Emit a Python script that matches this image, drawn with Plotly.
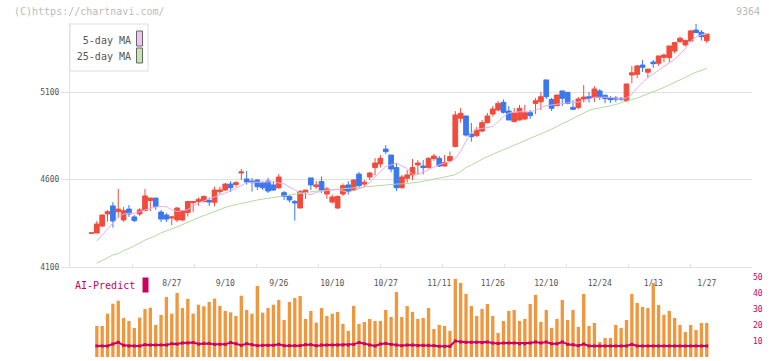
import plotly.graph_objects as go

W, H = 772, 361


def px(x):
    return x / W


def py(y):
    return 1 - y / H


# ---------------- data ----------------
idx = list(range(116))

opens = [4293, 4294, 4334, 4403, 4449, 4416, 4369, 4431, 4386, 4403,
         4422, 4480, 4494, 4414, 4397, 4380, 4369, 4369, 4411, 4468,
         4474, 4474, 4480, 4470, 4531, 4540, 4574, 4571, 4637, 4603,
         4591, 4597, 4580, 4591, 4569, 4553, 4525, 4503, 4474, 4437,
         4525, 4609, 4559, 4588, 4517, 4471, 4437, 4517, 4569, 4540,
         4631, 4574, 4614, 4668, 4689, 4774, 4740, 4668, 4553, 4607,
         4626, 4683, 4677, 4668, 4719, 4721, 4677, 4706, 4788, 4950,
         4963, 4860, 4851, 4877, 4925, 4974, 4997, 5041, 4991, 4931,
         4940, 4946, 4982, 5035, 5044, 5169, 5058, 5022, 5106, 5098,
         5012, 5012, 5060, 5073, 5070, 5106, 5081, 5064, 5066, 5064,
         5049, 5197, 5201, 5254, 5213, 5271, 5264, 5298, 5296, 5334,
         5388, 5369, 5391, 5454, 5441, 5393]

highs = [4296, 4363, 4400, 4426, 4471, 4546, 4443, 4454, 4397, 4437,
         4546, 4494, 4494, 4426, 4409, 4391, 4443, 4426, 4474, 4474,
         4497, 4509, 4497, 4559, 4559, 4580, 4591, 4591, 4660, 4649,
         4609, 4603, 4591, 4609, 4591, 4631, 4534, 4514, 4483, 4540,
         4540, 4609, 4591, 4617, 4557, 4514, 4509, 4577, 4591, 4603,
         4643, 4597, 4643, 4723, 4740, 4797, 4740, 4694, 4626, 4654,
         4717, 4711, 4711, 4726, 4746, 4734, 4740, 4760, 4991, 5009,
         4963, 4923, 4900, 4940, 4980, 5020, 5049, 5058, 5020, 5009,
         5026, 5026, 4997, 5066, 5100, 5169, 5066, 5083, 5106, 5100,
         5054, 5071, 5140, 5100, 5134, 5117, 5087, 5077, 5077, 5071,
         5146, 5249, 5254, 5283, 5231, 5283, 5306, 5320, 5363, 5383,
         5417, 5400, 5454, 5489, 5454, 5431]

lows = [4292, 4294, 4328, 4359, 4325, 4380, 4357, 4386, 4357, 4391,
        4420, 4420, 4426, 4357, 4357, 4340, 4357, 4363, 4388, 4414,
        4451, 4469, 4449, 4446, 4517, 4534, 4529, 4557, 4597, 4571,
        4531, 4540, 4540, 4523, 4534, 4546, 4483, 4469, 4365, 4437,
        4489, 4540, 4546, 4523, 4489, 4463, 4431, 4506, 4514, 4534,
        4551, 4557, 4597, 4623, 4668, 4746, 4641, 4534, 4549, 4583,
        4597, 4629, 4629, 4663, 4706, 4671, 4677, 4706, 4784, 4925,
        4845, 4816, 4843, 4871, 4920, 4960, 4989, 4977, 4940, 4926,
        4937, 4940, 4946, 4974, 4997, 5060, 4991, 5022, 5020, 5030,
        4997, 5001, 5040, 5040, 5043, 5054, 5037, 5037, 5043, 5049,
        5043, 5150, 5180, 5214, 5180, 5237, 5249, 5270, 5270, 5320,
        5380, 5360, 5386, 5437, 5394, 5380]

closes = [4295, 4346, 4397, 4416, 4363, 4431, 4422, 4403, 4365, 4426,
          4506, 4494, 4446, 4374, 4374, 4386, 4437, 4422, 4474, 4474,
          4486, 4503, 4471, 4540, 4540, 4574, 4553, 4582, 4643, 4586,
          4582, 4559, 4553, 4534, 4540, 4614, 4503, 4483, 4466, 4531,
          4540, 4569, 4569, 4540, 4546, 4500, 4503, 4565, 4531, 4597,
          4565, 4585, 4637, 4694, 4721, 4759, 4660, 4553, 4614, 4626,
          4668, 4694, 4668, 4721, 4734, 4677, 4697, 4731, 4969, 4978,
          4854, 4845, 4883, 4925, 4963, 5003, 5035, 4984, 4940, 4982,
          5007, 4982, 4965, 5050, 5073, 5073, 5007, 5083, 5064, 5035,
          5001, 5060, 5071, 5064, 5117, 5070, 5062, 5056, 5060, 5060,
          5146, 5210, 5249, 5241, 5231, 5262, 5306, 5311, 5363, 5383,
          5407, 5394, 5449, 5439, 5416, 5431]

ma5 = [None, 4249, 4281, 4317, 4351, 4386, 4403, 4407, 4407, 4417,
       4427, 4436, 4443, 4445, 4445, 4426, 4417, 4422, 4427, 4449,
       4466, 4478, 4489, 4499, 4511, 4523, 4534, 4549, 4565, 4582,
       4584, 4586, 4587, 4586, 4586, 4582, 4575, 4557, 4539, 4524,
       4517, 4513, 4527, 4534, 4537, 4541, 4543, 4534, 4527, 4537,
       4547, 4557, 4583, 4611, 4643, 4674, 4683, 4693, 4678, 4663,
       4629, 4629, 4641, 4656, 4671, 4685, 4694, 4699, 4719, 4761,
       4819, 4867, 4886, 4891, 4897, 4903, 4930, 4960, 4980, 4985,
       4987, 4987, 4987, 4995, 5012, 5022, 5027, 5031, 5035, 5038,
       5040, 5043, 5045, 5059, 5070, 5070, 5070, 5070, 5065, 5060,
       5066, 5087, 5123, 5155, 5182, 5203, 5223, 5244, 5266, 5287,
       5316, 5347, 5391, 5414, 5427, 5431]

ma25 = [None, 4121, 4137, 4154, 4169, 4176, 4194, 4206, 4219, 4236,
        4254, 4265, 4278, 4295, 4308, 4318, 4329, 4341, 4355, 4369,
        4382, 4394, 4406, 4419, 4429, 4440, 4450, 4457, 4465, 4473,
        4478, 4483, 4488, 4493, 4497, 4502, 4506, 4511, 4516, 4521,
        4527, 4531, 4534, 4536, 4539, 4541, 4543, 4546, 4549, 4553,
        4556, 4559, 4562, 4565, 4567, 4569, 4571, 4574, 4575, 4577,
        4579, 4584, 4590, 4595, 4602, 4608, 4614, 4621, 4628, 4646,
        4668, 4683, 4700, 4717, 4731, 4744, 4757, 4769, 4781, 4794,
        4808, 4819, 4832, 4845, 4858, 4873, 4887, 4903, 4918, 4931,
        4949, 4964, 4979, 4995, 5004, 5009, 5015, 5020, 5029, 5037,
        5045, 5057, 5066, 5077, 5089, 5101, 5113, 5126, 5139, 5154,
        5169, 5184, 5199, 5213, 5223, 5235]

vol_x = list(range(1, 116))
volume = [19.4, 19.4, 27.1, 33.3, 35.2, 24.4, 22.5, 18.1, 24.6, 30.0,
          30.8, 20.0, 26.3, 37.5, 27.1, 40.0, 30.6, 36.3, 27.1, 32.7,
          31.7, 34.4, 36.5, 31.9, 28.8, 27.9, 25.6, 38.3, 29.4, 27.1,
          44.4, 27.7, 30.6, 32.7, 35.6, 23.1, 34.4, 36.9, 38.1, 23.8,
          28.8, 21.5, 30.6, 25.6, 27.1, 28.1, 20.6, 16.3, 31.9, 20.6,
          21.9, 23.8, 22.5, 22.5, 29.4, 25.0, 40.6, 25.0, 31.9, 28.1,
          23.8, 24.4, 30.6, 17.5, 20.0, 19.4, 16.3, 48.8, 46.3, 39.4,
          31.9, 25.6, 30.0, 33.1, 25.6, 15.0, 22.5, 28.8, 29.4, 22.5,
          23.8, 33.1, 38.8, 21.9, 29.4, 18.1, 23.8, 35.6, 23.1, 29.4,
          18.8, 39.4, 19.4, 21.3, 9.4, 11.9, 11.9, 20.0, 18.1, 23.1,
          39.4, 33.8, 31.3, 30.6, 46.3, 32.5, 26.3, 28.8, 24.4, 20.0,
          15.6, 20.0, 16.9, 21.3, 21.3]

ai_predict = [6.9, 6.9, 6.9, 8.1, 9.2, 7.3, 6.9, 6.9, 6.9, 7.7,
              7.5, 7.5, 7.5, 7.5, 8.3, 8.1, 8.75, 8.75, 9.0, 8.1,
              8.5, 8.5, 7.9, 7.9, 7.9, 9.0, 8.3, 7.3, 8.3, 7.7,
              7.1, 7.3, 7.3, 7.3, 7.9, 7.1, 7.1, 7.1, 7.1, 7.7,
              7.7, 7.1, 7.5, 7.5, 7.5, 7.5, 7.5, 7.5, 7.9, 9.0,
              8.3, 7.5, 6.9, 8.1, 8.5, 7.9, 7.5, 7.1, 7.5, 7.5,
              7.1, 7.3, 7.3, 7.1, 6.7, 6.7, 6.7, 10.0, 9.4, 9.2,
              9.2, 9.2, 9.0, 9.4, 8.75, 8.5, 8.75, 8.75, 8.75, 8.3,
              8.3, 8.75, 9.4, 8.75, 9.4, 8.3, 8.3, 9.4, 7.9, 7.7,
              7.1, 8.1, 6.9, 6.9, 6.9, 6.9, 6.9, 6.9, 6.9, 6.9,
              7.9, 6.9, 6.9, 6.9, 6.9, 6.9, 6.9, 6.9, 6.9, 6.9,
              6.9, 6.9, 6.9, 6.9, 6.9]

date_idx = [15, 25, 35, 45, 55, 65, 75, 85, 95, 105, 115]
date_labels = ["8/27", "9/10", "9/26", "10/10", "10/27", "11/11",
               "11/26", "12/10", "12/24", "1/13", "1/27"]
price_ticks = [4100, 4600, 5100]
vol_ticks = [0, 10, 20, 30, 40, 50]

# ---------------- style ----------------
FONT = "DejaVu Sans Mono"
RED = "#f04c3c"
BLUE = "#3a78ee"
ORANGE = "#f0963c"
CRIMSON = "#cc0060"
PINK = "#e6aee6"
GREEN = "#b2daa0"
GRID = "#e2e2e2"
TXT = "#555555"

XR = [(70 - 91.5) / 5.35, (752 - 91.5) / 5.35]
XDOM = [px(70), px(752)]
TOP_PX = 23  # top pixel of the price panel

fig = go.Figure()

fig.add_trace(go.Scatter(x=idx, y=ma25, mode="lines",
                         line=dict(color=GREEN, width=1),
                         xaxis="x", yaxis="y", hoverinfo="skip"))
fig.add_trace(go.Scatter(x=idx, y=ma5, mode="lines",
                         line=dict(color=PINK, width=1),
                         xaxis="x", yaxis="y", hoverinfo="skip"))
fig.add_trace(go.Candlestick(
    x=idx, open=opens, high=highs, low=lows, close=closes,
    increasing=dict(fillcolor=RED, line=dict(color=RED, width=1)),
    decreasing=dict(fillcolor=BLUE, line=dict(color=BLUE, width=1)),
    whiskerwidth=0, xaxis="x", yaxis="y"))

# invisible trace so the divider-tick axis is drawn
fig.add_trace(go.Scatter(x=[0, 11], y=[4100, 4100], mode="markers",
                         marker=dict(opacity=0), xaxis="x3", yaxis="y",
                         hoverinfo="skip"))

fig.add_trace(go.Bar(x=vol_x, y=volume, width=0.62,
                     marker=dict(color=ORANGE, line=dict(width=0)),
                     xaxis="x2", yaxis="y2"))
fig.add_trace(go.Scatter(x=vol_x, y=ai_predict, mode="lines+markers",
                         line=dict(color=CRIMSON, width=2),
                         marker=dict(symbol="square", size=3, color=CRIMSON),
                         xaxis="x2", yaxis="y2"))


# page-level texts on a full-page overlay axis (pixel coordinates)
def text_trace(x, y, s, pos, color, size=10):
    return go.Scatter(x=[x], y=[y], mode="text", text=[s], textposition=pos,
                      textfont=dict(family=FONT, size=size, color=color),
                      xaxis="x4", yaxis="y4", hoverinfo="skip", cliponaxis=False)


fig.add_trace(text_trace(14, 12, "(C)https://chartnavi.com/", "middle right", "#bbbbbb"))
fig.add_trace(text_trace(760, 12, "9364", "middle left", "#bbbbbb"))
fig.add_trace(text_trace(131, 41, "5-day MA", "middle left", TXT))
fig.add_trace(text_trace(131, 57, "25-day MA", "middle left", TXT))
fig.add_trace(text_trace(75, 286, "AI-Predict", "middle right", CRIMSON))

fig.update_layout(
    width=W, height=H,
    margin=dict(l=0, r=0, t=0, b=0, pad=0, autoexpand=False),
    paper_bgcolor="white", plot_bgcolor="rgba(0,0,0,0)",
    showlegend=False,
    boxgap=0.12, boxgroupgap=0,
    font=dict(family=FONT, size=8, color=TXT),
    xaxis=dict(domain=XDOM, range=XR, anchor="y",
               showgrid=False, zeroline=False, automargin=False,
               showline=True, linecolor=GRID, linewidth=1,
               tickvals=date_idx, ticktext=date_labels,
               ticks="", ticklabelstandoff=8,
               tickfont=dict(family=FONT, size=8, color=TXT),
               rangeslider=dict(visible=False), fixedrange=True),
    xaxis3=dict(domain=XDOM, range=[0, 11], anchor="y", overlaying="x",
                showgrid=False, zeroline=False, showline=False, automargin=False,
                tickvals=list(range(12)), ticks="inside", ticklen=3,
                tickcolor=GRID, showticklabels=False),
    yaxis=dict(domain=[py(267), py(TOP_PX)],
               range=[4100, 4100 + (267 - TOP_PX) * 500 / 87.5],
               anchor="x", tickvals=price_ticks, automargin=False,
               showgrid=True, gridcolor=GRID, gridwidth=1,
               zeroline=False, showline=True, linecolor=GRID,
               ticks="outside", ticklen=8, tickcolor=GRID,
               tickfont=dict(family=FONT, size=8, color=TXT)),
    xaxis2=dict(domain=XDOM, range=XR, anchor="y2", visible=False,
                automargin=False),
    yaxis2=dict(domain=[py(357), py(277)], range=[0, 50], anchor="x2",
                side="right", tickvals=vol_ticks, automargin=False,
                ticktext=["\u00a0" + str(v) if v < 10 else str(v) for v in vol_ticks],
                showgrid=False, zeroline=False, showline=False, ticks="",
                tickfont=dict(family=FONT, size=8, color=CRIMSON)),
    xaxis4=dict(domain=[0, 1], range=[0, W], anchor="y4", visible=False,
                automargin=False, fixedrange=True),
    yaxis4=dict(domain=[0, 1], range=[H, 0], anchor="x4", visible=False,
                automargin=False, fixedrange=True),
)

shapes = [
    # legend box
    dict(type="rect", xref="paper", yref="paper",
         x0=px(70), x1=px(148), y0=py(71), y1=py(24),
         line=dict(color="#dddddd", width=1), fillcolor="white", layer="below"),
    dict(type="rect", xref="paper", yref="paper",
         x0=px(136.5), x1=px(142.5), y0=py(46), y1=py(31),
         line=dict(color="#666666", width=1), fillcolor="#f0c4f0", layer="above"),
    dict(type="rect", xref="paper", yref="paper",
         x0=px(136.5), x1=px(142.5), y0=py(63), y1=py(48),
         line=dict(color="#666666", width=1), fillcolor="#c4e4b4", layer="above"),
    # AI-Predict swatch
    dict(type="rect", xref="paper", yref="paper",
         x0=px(142.5), x1=px(148.5), y0=py(292.5), y1=py(277.5),
         line=dict(width=0), fillcolor=CRIMSON, layer="above"),
]
fig.update_layout(shapes=shapes)

fig.write_html("out.html",
               config={"displayModeBar": False, "staticPlot": True},
               post_script="document.body.style.margin='0';"
                           "document.body.style.padding='0';"
                           "document.body.style.overflow='hidden';")
